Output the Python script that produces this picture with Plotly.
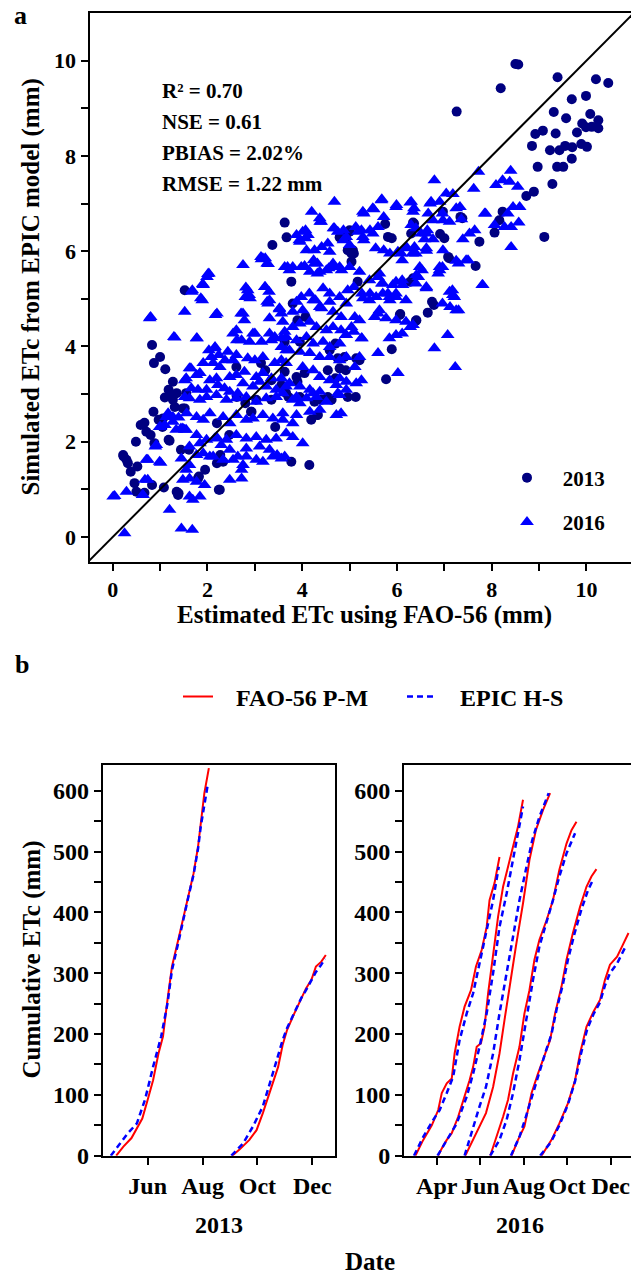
import plotly.graph_objects as go

W, H = 631, 1277
SERIF = "Liberation Serif"
NAVY = "#000080"
BLUE = "#0000FF"
RED = "#FF0000"

# ---------------- panel a: daily ETc (mm), FAO-56 estimate vs EPIC simulation ----------------
etc_2013 = [
    (8.50, 9.93), (8.56, 9.92), (9.39, 9.65), (10.20, 9.61), (10.46, 9.53), (8.19, 9.42), (7.26, 8.93),
    (9.69, 9.19), (9.99, 9.26), (9.31, 8.92), (9.57, 8.79), (10.08, 8.88), (10.25, 8.75), (9.91, 8.68),
    (9.99, 8.60), (10.11, 8.61), (10.25, 8.58), (9.80, 8.49), (8.92, 8.46), (9.08, 8.53), (9.35, 8.47),
    (8.85, 8.21), (9.23, 8.12), (9.43, 8.12), (9.55, 8.21), (9.70, 8.18), (9.89, 8.25), (10.01, 8.19),
    (9.69, 7.94), (8.97, 7.77), (9.38, 7.77), (9.51, 7.77), (9.28, 7.41), (8.89, 7.25), (8.73, 7.16),
    (9.11, 6.30),
    (6.34, 6.60), (6.91, 6.36), (7.00, 6.27), (7.10, 5.85), (7.74, 6.20), (7.66, 5.69), (8.23, 6.83),
    (8.16, 6.65), (8.06, 6.39), (6.97, 6.83), (7.34, 6.72), (7.38, 6.69),
    (3.63, 6.60), (3.37, 6.13), (3.67, 6.29), (3.77, 5.36), (3.80, 4.90), (1.52, 5.18), (5.00, 6.44),
    (4.92, 6.30), (5.04, 5.95), (5.09, 5.95), (5.04, 5.78), (5.17, 5.36), (5.75, 6.57), (5.81, 6.30),
    (5.89, 6.27), (6.36, 6.58), (6.30, 6.37), (6.28, 5.36), (6.34, 5.43), (7.08, 5.88), (6.74, 4.94),
    (6.78, 4.87), (6.65, 4.71), (6.07, 4.68), (6.41, 4.55), (4.79, 6.29), (5.00, 6.41), (4.96, 6.02),
    (5.07, 6.02),
    (0.83, 4.03), (0.87, 3.65), (1.00, 3.78), (1.11, 3.52), (1.27, 3.26), (1.18, 3.09), (1.35, 3.02),
    (1.10, 2.93), (1.27, 2.88), (1.31, 2.73), (1.52, 2.70), (0.86, 2.63), (0.97, 2.46), (1.05, 2.31),
    (0.59, 2.35), (0.67, 2.40), (0.71, 2.21), (0.80, 2.14), (0.49, 2.00), (0.88, 1.97), (1.18, 2.04),
    (1.44, 1.83), (1.61, 1.83), (0.23, 1.69), (0.32, 1.55), (0.38, 1.37), (0.52, 1.48), (0.46, 1.13),
    (0.50, 0.95), (0.67, 0.93), (0.83, 1.09), (1.08, 1.04), (1.35, 0.95), (1.39, 0.92), (1.82, 1.27),
    (1.95, 1.41), (2.24, 0.99), (2.20, 1.55), (2.27, 1.72), (2.46, 2.14), (2.20, 2.39), (2.80, 2.81),
    (2.62, 2.94), (2.92, 2.63), (3.35, 2.88), (3.43, 2.31), (3.13, 3.65), (3.22, 3.50), (3.56, 3.19),
    (3.77, 1.58), (4.15, 1.51), (4.07, 4.62), (3.90, 4.55), (3.71, 2.94), (3.90, 3.26), (4.32, 2.56),
    (4.41, 2.88), (4.54, 2.94), (4.62, 2.88), (4.96, 2.94), (5.13, 2.94), (4.70, 4.06), (4.58, 3.92),
    (4.54, 3.50), (4.70, 3.33), (4.92, 3.50), (5.77, 3.31), (5.89, 3.94), (6.06, 4.66), (6.40, 4.54),
    (1.55, 3.02), (2.61, 3.57), (3.35, 3.29), (2.33, 1.58), (3.03, 2.88), (2.93, 2.63), (5.21, 3.71),
    (5.14, 3.75), (4.75, 3.75), (4.89, 3.78), (4.79, 3.54), (3.63, 4.10), (3.95, 4.10), (3.63, 3.47),
    (3.88, 3.36), (4.05, 3.44), (3.66, 3.02), (3.95, 2.94), (4.26, 2.84), (4.19, 2.46), (4.33, 2.56),
    (1.20, 2.98), (1.48, 2.70), (1.06, 2.49), (1.20, 2.02), (0.22, 1.72), (0.29, 1.62), (1.80, 1.23),
    (2.26, 0.99), (1.38, 0.88),
]

etc_2016 = [
    (7.72, 7.67), (6.79, 7.49), (8.40, 7.69), (8.23, 7.49), (8.09, 7.39), (8.38, 7.46), (8.55, 7.35),
    (7.62, 7.31), (7.04, 7.21), (7.18, 7.20), (6.72, 7.04), (6.90, 7.04), (6.30, 7.04), (6.34, 6.83),
    (7.25, 6.90), (7.33, 6.93), (7.87, 6.79), (8.45, 6.93), (8.59, 6.93), (8.34, 6.79), (6.76, 6.65),
    (6.97, 6.65), (7.11, 6.62), (7.36, 6.67), (8.06, 6.55), (8.27, 6.51), (8.41, 6.51), (8.57, 6.60),
    (6.62, 6.37), (6.76, 6.25), (6.58, 6.25), (6.20, 6.09), (6.37, 6.09), (6.09, 5.95), (7.39, 6.25),
    (7.53, 6.37), (7.64, 6.44), (8.41, 6.09), (6.97, 6.02), (6.62, 6.01), (7.25, 5.80), (7.50, 5.81),
    (6.90, 5.67), (6.48, 5.67),
    (4.68, 7.04), (5.68, 7.09), (5.98, 6.93), (6.28, 7.02), (6.36, 6.90), (5.51, 6.88), (5.30, 6.79),
    (6.70, 7.00), (6.66, 6.79), (4.20, 6.83), (4.38, 6.62), (6.96, 6.79), (7.85, 6.79), (6.64, 6.44),
    (6.40, 6.48), (6.51, 6.37), (6.62, 6.06), (5.72, 6.72), (5.60, 6.51), (5.43, 6.44), (5.13, 6.51),
    (5.25, 6.44), (4.66, 6.48), (4.87, 6.44), (4.07, 6.44), (3.88, 6.34), (4.07, 6.27), (3.94, 6.23),
    (4.41, 6.09), (4.58, 5.99), (4.24, 5.81), (4.32, 5.74), (4.87, 6.23), (5.00, 6.13), (5.30, 6.23),
    (5.55, 6.06), (5.72, 6.02), (5.85, 5.95), (6.02, 5.99), (6.11, 5.81), (6.19, 6.06), (6.32, 5.95),
    (6.40, 5.95), (5.00, 5.67), (4.83, 5.60), (4.66, 5.67), (4.56, 5.64), (4.32, 5.53), (4.16, 5.57),
    (3.98, 5.67), (3.69, 5.67), (3.73, 5.60), (3.22, 5.85), (3.26, 5.74), (3.13, 5.88), (2.75, 5.71),
    (2.81, 5.24), (2.88, 5.08), (2.80, 5.04), (3.22, 5.25), (3.30, 5.15), (3.26, 4.94), (2.03, 5.53),
    (1.99, 5.46), (1.90, 5.31), (1.68, 5.18), (1.86, 5.01), (1.52, 4.73), (2.20, 4.69), (0.80, 4.62),
    (2.71, 4.69), (3.52, 4.78), (3.56, 4.69), (3.98, 5.04), (4.15, 5.11), (4.28, 4.97), (4.41, 4.80),
    (4.58, 4.94), (5.09, 5.25), (5.26, 5.11), (5.43, 5.11), (5.60, 5.46), (5.68, 5.32), (5.98, 5.36),
    (6.11, 5.39), (5.81, 5.11), (5.98, 5.11), (6.19, 4.97), (5.85, 4.97), (6.45, 5.46), (6.40, 5.32),
    (6.62, 5.25), (6.87, 5.53), (6.96, 5.67), (7.17, 5.18), (7.21, 5.04), (7.25, 4.76), (7.80, 5.29),
    (7.46, 5.81), (7.30, 5.74), (6.53, 5.60),
    (4.37, 6.69), (4.40, 6.62), (4.01, 6.41), (4.12, 6.34), (3.95, 6.20), (4.68, 6.48), (4.75, 6.41),
    (4.93, 6.30), (5.18, 6.41), (5.28, 6.30), (5.49, 6.37), (5.67, 7.07), (5.99, 6.97), (6.30, 6.55),
    (5.28, 6.83), (5.49, 6.90), (4.54, 6.16), (4.26, 6.02), (4.09, 6.02), (3.17, 5.85),
    (3.14, 5.83), (3.28, 5.73), (3.63, 5.67), (2.01, 5.52), (1.91, 5.29), (1.67, 5.15), (1.89, 4.97),
    (0.78, 4.59), (2.17, 4.66), (1.31, 4.19), (1.77, 4.17), (2.85, 5.18), (2.90, 5.01), (3.21, 5.25),
    (3.31, 4.97), (3.28, 4.90), (3.52, 4.80), (2.75, 4.69), (2.78, 4.55), (3.31, 4.59), (3.59, 4.52),
    (3.63, 4.31), (3.56, 4.17), (2.61, 4.34), (3.00, 4.27), (3.31, 4.27), (3.42, 4.20), (2.72, 4.13),
    (2.89, 4.10), (3.14, 4.10), (3.35, 4.13), (3.56, 3.99), (3.66, 3.92), (2.15, 3.96), (2.08, 3.78),
    (2.43, 3.89), (2.61, 3.82), (2.54, 3.71), (1.62, 3.54), (1.91, 3.65), (2.12, 3.65), (2.26, 3.57),
    (2.85, 3.75), (3.00, 3.71), (3.17, 3.78), (3.42, 3.65), (3.56, 3.71), (1.55, 3.33), (1.77, 3.40),
    (1.84, 3.44), (2.05, 3.29), (2.19, 3.33), (2.47, 3.36), (2.61, 3.40), (2.78, 3.47), (3.03, 3.36),
    (3.17, 3.44), (3.35, 3.33), (3.56, 3.33), (1.66, 3.12), (1.80, 3.09), (1.98, 3.09), (2.22, 3.19),
    (2.36, 3.12), (2.75, 3.23), (2.96, 3.16), (3.10, 3.26), (3.24, 3.16), (2.47, 3.05), (2.64, 3.02),
    (3.45, 3.09), (3.66, 3.16), (1.52, 2.94), (1.62, 2.91),
    (3.80, 5.67), (4.05, 5.69), (4.26, 5.74), (4.37, 5.57), (4.51, 5.60), (4.65, 5.74), (4.79, 5.67),
    (5.21, 5.57), (5.42, 5.39), (5.63, 5.53), (5.70, 5.32), (5.91, 5.29), (6.12, 5.29), (6.41, 5.50),
    (6.62, 5.22), (6.90, 5.60), (7.11, 5.15), (7.18, 5.08), (7.07, 4.24), (6.79, 3.96), (7.23, 3.57),
    (7.81, 5.29), (6.02, 3.44), (5.60, 3.86), (5.25, 4.17), (5.84, 4.17), (5.98, 4.24), (6.19, 4.52),
    (6.34, 4.45), (5.63, 4.76), (5.53, 4.62), (5.28, 5.01), (5.42, 4.97), (5.56, 5.04), (5.70, 5.11),
    (5.84, 5.04), (5.98, 5.04), (4.93, 4.90), (5.11, 4.62), (5.21, 4.55), (5.04, 4.41), (4.44, 5.22),
    (4.58, 5.11), (4.79, 5.04), (4.96, 5.18), (4.23, 4.97), (4.37, 4.83), (4.65, 4.73), (4.82, 4.62),
    (3.88, 4.94), (4.01, 4.76), (3.80, 4.73), (3.80, 4.41), (3.95, 4.48), (4.16, 4.52), (4.30, 4.41),
    (4.51, 4.34), (4.65, 4.41), (4.82, 4.34), (4.93, 4.24), (3.66, 4.20), (3.88, 4.13), (4.09, 4.20),
    (4.23, 4.06), (4.44, 4.10), (4.58, 3.99), (4.79, 4.06), (3.73, 3.92), (3.95, 3.89), (4.16, 3.86),
    (4.37, 3.78), (4.58, 3.78), (4.79, 3.71), (4.93, 3.78), (5.21, 3.78), (5.11, 3.57), (5.25, 3.29),
    (3.66, 3.65), (4.01, 3.57), (4.23, 3.50), (4.37, 3.36), (4.58, 3.29), (4.79, 3.33), (4.93, 3.26),
    (3.73, 3.23), (3.95, 3.16), (4.16, 3.09), (4.37, 3.05), (4.72, 3.19), (4.93, 3.09), (5.14, 3.23),
    (3.59, 3.02), (3.88, 2.94), (4.09, 2.91), (4.30, 2.94), (4.79, 2.98),
    (0.01, 0.85), (0.25, 0.08), (0.29, 0.95), (0.64, 0.88), (0.71, 1.62), (0.99, 1.58), (0.68, 1.20),
    (0.92, 1.93), (1.20, 0.57), (1.45, 0.18), (1.68, 0.15), (1.69, 0.78), (1.84, 0.85), (1.94, 1.09),
    (1.62, 0.85), (1.48, 1.20), (1.62, 1.23), (1.77, 1.16), (2.47, 1.20), (2.72, 1.23), (1.45, 1.65),
    (1.62, 1.51), (1.55, 1.41), (1.77, 1.72), (1.91, 1.76), (2.05, 1.69), (1.62, 1.90), (1.84, 1.97),
    (1.55, 2.25), (1.77, 2.14), (1.98, 2.04), (2.15, 2.07), (2.29, 1.93), (2.12, 1.69), (2.33, 1.62),
    (2.54, 1.62), (2.64, 1.69), (2.82, 1.69), (3.03, 1.62), (3.17, 1.58), (3.38, 1.69), (3.56, 1.65),
    (2.72, 1.41), (2.75, 1.51), (1.77, 2.52), (1.91, 2.46), (2.05, 2.60), (1.13, 2.52), (1.27, 2.42),
    (0.99, 2.31), (1.34, 2.25), (1.48, 2.28), (1.17, 2.60), (2.33, 2.52), (2.47, 2.39), (2.61, 2.56),
    (2.82, 2.46), (2.96, 2.49), (3.17, 2.56), (3.38, 2.49), (3.59, 2.60), (2.19, 2.10), (2.40, 2.04),
    (2.61, 2.14), (2.82, 2.07), (3.03, 2.10), (3.24, 2.04), (3.45, 2.07), (3.66, 2.18), (1.84, 2.88),
    (1.98, 2.94), (2.19, 2.98), (2.40, 2.88), (2.61, 2.91), (2.82, 2.94), (3.03, 2.84), (3.24, 2.91),
    (3.45, 2.94), (2.47, 1.83), (2.82, 1.86), (3.10, 1.90), (3.31, 1.83),
    (3.63, 1.69), (4.01, 1.97), (3.80, 2.10), (3.59, 2.46), (3.80, 2.39), (3.88, 2.56), (4.16, 2.63),
    (4.37, 2.67), (4.72, 2.56), (4.82, 2.60), (4.51, 2.84), (4.23, 3.02), (4.75, 3.02), (3.80, 2.88),
    (3.95, 2.81), (5.26, 4.17), (5.09, 4.31), (4.92, 4.24), (3.47, 1.72), (6.11, 4.27), (6.28, 4.41),
    (5.98, 4.55), (5.77, 4.59), (5.60, 4.69), (7.12, 4.83), (7.30, 4.76), (6.96, 4.90), (0.74, 1.20),
    (1.01, 1.56), (0.74, 1.62), (0.90, 1.90), (1.01, 2.31), (1.10, 2.35), (1.27, 2.52), (1.39, 2.51),
    (1.44, 2.28), (1.52, 2.25), (1.56, 2.60), (1.52, 3.29), (1.65, 3.54), (1.29, 4.20), (1.78, 4.17),
    (2.03, 3.92), (2.16, 3.99), (2.24, 3.82), (2.37, 3.71), (2.54, 4.27), (2.62, 4.13), (2.96, 4.27),
    (0.04, 0.86), (0.63, 0.88),
]

fit_stats = ["R² = 0.70", "NSE = 0.61", "PBIAS = 2.02%", "RMSE = 1.22 mm"]
etc_ticks = list(range(0, 11))

# ---------------- panel b: cumulative ETc (mm) per growing season ----------------
fao_2013_dates = [
    ["2013-04-27", "2013-05-05", "2013-05-14", "2013-05-19", "2013-05-26", "2013-06-01", "2013-06-07",
     "2013-06-13", "2013-06-18", "2013-06-23", "2013-06-28", "2013-07-05", "2013-07-10", "2013-07-16",
     "2013-07-22", "2013-07-27", "2013-07-31", "2013-08-03", "2013-08-08"],
    ["2013-09-03", "2013-09-11", "2013-09-22", "2013-09-30", "2013-10-07", "2013-10-13", "2013-10-18",
     "2013-10-24", "2013-10-29", "2013-11-03", "2013-11-11", "2013-11-19", "2013-11-24", "2013-11-30",
     "2013-12-05", "2013-12-11", "2013-12-16"],
]
fao_2013_mm = [
    [0, 15, 29, 42, 61, 92, 124, 168, 196, 256, 311, 355, 388, 426, 464, 508, 563, 596, 637],
    [0, 10, 26, 42, 70, 97, 119, 146, 182, 207, 234, 261, 275, 289, 311, 319, 330],
]
epic_2013_dates = [
    ["2013-04-21", "2013-05-01", "2013-05-10", "2013-05-20", "2013-05-29", "2013-06-07", "2013-06-16",
     "2013-06-23", "2013-06-28", "2013-07-05", "2013-07-10", "2013-07-16", "2013-07-22", "2013-07-27",
     "2013-07-30", "2013-08-07"],
    ["2013-09-02", "2013-09-15", "2013-09-26", "2013-10-07", "2013-10-18", "2013-10-29", "2013-11-03",
     "2013-11-11", "2013-11-19", "2013-11-24", "2013-11-30", "2013-12-05", "2013-12-11", "2013-12-15"],
]
epic_2013_mm = [
    [0, 20, 37, 53, 92, 146, 196, 250, 305, 350, 385, 424, 462, 505, 541, 612],
    [0, 20, 48, 81, 135, 190, 210, 236, 260, 272, 288, 302, 314, 324],
]

fao_2016_dates = [
    ["2016-03-02", "2016-03-13", "2016-03-25", "2016-04-03", "2016-04-08", "2016-04-15", "2016-04-22",
     "2016-04-26", "2016-05-03", "2016-05-10", "2016-05-19", "2016-05-26", "2016-06-03", "2016-06-10",
     "2016-06-14", "2016-06-21", "2016-06-28"],
    ["2016-04-03", "2016-04-08", "2016-04-15", "2016-04-22", "2016-05-01", "2016-05-10", "2016-05-17",
     "2016-05-22", "2016-05-27", "2016-06-02", "2016-06-07", "2016-06-12", "2016-06-19", "2016-06-26",
     "2016-07-03", "2016-07-10", "2016-07-17", "2016-07-24", "2016-07-31"],
    ["2016-05-11", "2016-05-22", "2016-05-31", "2016-06-09", "2016-06-19", "2016-06-28", "2016-07-05",
     "2016-07-12", "2016-07-21", "2016-07-31", "2016-08-09", "2016-08-18", "2016-08-28", "2016-09-07"],
    ["2016-06-15", "2016-06-24", "2016-07-03", "2016-07-10", "2016-07-17", "2016-07-26", "2016-08-02",
     "2016-08-09", "2016-08-16", "2016-08-23", "2016-09-02", "2016-09-11", "2016-09-20", "2016-09-30",
     "2016-10-07", "2016-10-14"],
    ["2016-07-15", "2016-07-24", "2016-08-02", "2016-08-12", "2016-08-21", "2016-08-31", "2016-09-07",
     "2016-09-14", "2016-09-23", "2016-09-30", "2016-10-09", "2016-10-19", "2016-10-28", "2016-11-04",
     "2016-11-11"],
    ["2016-08-26", "2016-09-09", "2016-09-20", "2016-10-02", "2016-10-12", "2016-10-19", "2016-10-28",
     "2016-11-07", "2016-11-16", "2016-11-23", "2016-11-30", "2016-12-10", "2016-12-17", "2016-12-26"],
]
fao_2016_mm = [
    [0, 26, 50, 75, 103, 119, 127, 168, 212, 245, 272, 311, 338, 376, 420, 448, 491],
    [0, 12, 26, 37, 64, 97, 124, 146, 179, 185, 212, 267, 333, 393, 442, 475, 508, 541, 585],
    [0, 26, 48, 70, 113, 168, 223, 278, 344, 415, 486, 535, 568, 596],
    [0, 31, 64, 92, 135, 179, 234, 272, 322, 355, 387, 420, 470, 513, 535, 549],
    [0, 26, 48, 103, 135, 168, 190, 234, 278, 322, 366, 409, 442, 459, 471],
    [0, 26, 53, 86, 124, 168, 212, 237, 256, 289, 314, 327, 344, 366],
]
epic_2016_dates = [
    ["2016-02-29", "2016-03-13", "2016-03-27", "2016-04-05", "2016-04-15", "2016-04-24", "2016-05-03",
     "2016-05-13", "2016-05-22", "2016-06-01", "2016-06-10", "2016-06-19", "2016-06-27"],
    ["2016-04-02", "2016-04-15", "2016-04-29", "2016-05-13", "2016-05-22", "2016-05-31", "2016-06-10",
     "2016-06-19", "2016-06-28", "2016-07-08", "2016-07-17", "2016-07-26", "2016-07-31"],
    ["2016-05-10", "2016-05-22", "2016-05-31", "2016-06-09", "2016-06-19", "2016-06-28", "2016-07-08",
     "2016-07-17", "2016-07-26", "2016-08-04", "2016-08-13", "2016-08-23", "2016-09-05"],
    ["2016-06-15", "2016-06-28", "2016-07-08", "2016-07-17", "2016-07-26", "2016-08-04", "2016-08-14",
     "2016-08-23", "2016-09-02", "2016-09-11", "2016-09-20", "2016-09-30", "2016-10-12"],
    ["2016-07-14", "2016-07-26", "2016-08-04", "2016-08-14", "2016-08-23", "2016-09-01", "2016-09-09",
     "2016-09-16", "2016-09-25", "2016-10-02", "2016-10-11", "2016-10-21", "2016-10-30", "2016-11-06"],
    ["2016-08-24", "2016-09-08", "2016-09-20", "2016-10-02", "2016-10-12", "2016-10-20", "2016-10-29",
     "2016-11-07", "2016-11-16", "2016-11-23", "2016-11-30", "2016-12-10", "2016-12-22"],
]
epic_2016_mm = [
    [0, 31, 59, 75, 103, 130, 190, 234, 267, 322, 371, 420, 475],
    [0, 26, 53, 97, 135, 179, 234, 300, 376, 431, 486, 541, 574],
    [0, 48, 81, 113, 168, 234, 300, 366, 420, 470, 519, 557, 596],
    [0, 26, 59, 103, 157, 223, 289, 344, 382, 420, 459, 497, 530],
    [0, 31, 64, 103, 141, 172, 200, 240, 282, 322, 364, 405, 436, 453],
    [0, 22, 50, 84, 122, 166, 208, 233, 252, 280, 300, 316, 344],
]

cum_ticks = list(range(0, 601, 50))
month_ticks_2013 = ["2013-06-01", "2013-08-01", "2013-10-01", "2013-12-01"]
month_ticks_2016 = ["2016-04-01", "2016-06-01", "2016-08-01", "2016-10-01", "2016-12-01"]


def fx(x):
    """pixel column -> paper x"""
    return x / W


def fy(y):
    """pixel row -> paper y"""
    return 1 - y / H


def joined(date_lists, val_lists):
    xs, ys = [], []
    for d, v in zip(date_lists, val_lists):
        xs += d + [None]
        ys += v + [None]
    return xs, ys


NB = "\u00a0"
fig = go.Figure()

# scatter, 2013 then 2016
fig.add_trace(go.Scatter(
    x=[p[0] for p in etc_2013], y=[p[1] for p in etc_2013], mode="markers",
    name=NB * 3 + "2013", legend="legend", legendgroup="y13",
    marker=dict(symbol="circle", size=10, color=NAVY, line=dict(width=0)),
    xaxis="x", yaxis="y"))
fig.add_trace(go.Scatter(
    x=[p[0] for p in etc_2016], y=[p[1] for p in etc_2016], mode="markers",
    name=NB * 3 + "2016", legend="legend", legendgroup="y16",
    marker=dict(symbol="triangle-up", size=12, color=BLUE, line=dict(width=0)),
    xaxis="x", yaxis="y"))
fig.add_trace(go.Scatter(
    x=[-1, 12], y=[-1, 12], mode="lines", showlegend=False,
    line=dict(color="black", width=2), xaxis="x", yaxis="y"))

# cumulative curves
for (dl, vl, dl2, vl2, xa, ya, first) in [
    (fao_2013_dates, fao_2013_mm, epic_2013_dates, epic_2013_mm, "x2", "y2", True),
    (fao_2016_dates, fao_2016_mm, epic_2016_dates, epic_2016_mm, "x3", "y3", False),
]:
    xs, ys = joined(dl, vl)
    fig.add_trace(go.Scatter(
        x=xs, y=ys, mode="lines", name=NB * 3 + "FAO-56 P-M", legend="legend2",
        showlegend=first, line=dict(color=RED, width=2), xaxis=xa, yaxis=ya))
    xs, ys = joined(dl2, vl2)
    fig.add_trace(go.Scatter(
        x=xs, y=ys, mode="lines", name=NB * 3 + "EPIC H-S", legend="legend2",
        showlegend=first, line=dict(color=BLUE, width=2.5, dash="6px,4px"), xaxis=xa, yaxis=ya))

ax = dict(showline=True, linewidth=2, linecolor="black", ticks="outside", ticklen=7,
          tickwidth=2, tickcolor="black", showgrid=False, zeroline=False, automargin=False)

tick_a = dict(family=SERIF, size=22, color="black", weight="bold")
tick_b = dict(family=SERIF, size=24, color="black", weight="bold")
cum_text = [str(v) if v % 100 == 0 else "" for v in cum_ticks]

fig.update_layout(
    width=W, height=H, margin=dict(l=0, r=0, t=0, b=0, pad=0, autoexpand=False),
    paper_bgcolor="white", plot_bgcolor="white",
    font=dict(family=SERIF, size=22, color="black", weight="bold"),
    xaxis=dict(**ax, domain=[fx(89.5), 1.0], range=[-0.49, 10.94], mirror=True,
               tickvals=etc_ticks, ticktext=[str(v) if v % 2 == 0 else "" for v in etc_ticks],
               tickfont=tick_a, anchor="y"),
    yaxis=dict(**ax, domain=[fy(562), fy(13)], range=[-0.525, 11.0], mirror=False,
               tickvals=etc_ticks, ticktext=[str(v) if v % 2 == 0 else "" for v in etc_ticks],
               tickfont=tick_a, anchor="x"),
    xaxis2=dict(**ax, domain=[fx(102.7), fx(335)], type="date",
                range=["2013-04-12", "2013-12-26 05:00"], mirror=True, tickangle=0,
                tickvals=month_ticks_2013, tickformat="%b", tickfont=tick_b, anchor="y2"),
    yaxis2=dict(**ax, domain=[fy(1155.7), fy(764.7)], range=[0, 642.7], mirror=True,
                tickvals=cum_ticks, ticktext=cum_text, tickfont=tick_b, anchor="x2"),
    xaxis3=dict(**ax, domain=[fx(404), 1.0], type="date",
                range=["2016-02-15", "2016-12-29 12:00"], mirror=True, tickangle=0,
                tickvals=month_ticks_2016, tickformat="%b", tickfont=tick_b, anchor="y3"),
    yaxis3=dict(**ax, domain=[fy(1155.7), fy(764.7)], range=[0, 642.7], mirror=False,
                tickvals=cum_ticks, ticktext=cum_text, tickfont=tick_b, anchor="x3"),
    legend=dict(x=fx(507), y=fy(500), xanchor="left", yanchor="middle",
                bgcolor="rgba(0,0,0,0)", tracegroupgap=14,
                font=dict(family=SERIF, size=21, color="black", weight="bold")),
    legend2=dict(orientation="h", x=fx(178), y=fy(697), xanchor="left", yanchor="middle",
                 bgcolor="rgba(0,0,0,0)", entrywidth=179,
                 font=dict(family=SERIF, size=24, color="black", weight="bold")),
)


def label(text, x, y, size, angle=0, xanchor="center", yanchor="middle"):
    fig.add_annotation(text=text, x=fx(x), y=fy(y), xref="paper", yref="paper",
                       showarrow=False, xanchor=xanchor, yanchor=yanchor, textangle=angle,
                       borderpad=0, font=dict(family=SERIF, size=size, color="black", weight="bold"))


label("a", 20, 16, 26)
label("b", 22, 664, 26)
for i, s in enumerate(fit_stats):
    label(s, 161, 91 + 31 * i, 21, xanchor="left")
label("Estimated ETc using FAO-56 (mm)", 364, 615, 25)
label("Simulated ETc from EPIC model (mm)", 31, 287.5, 25, angle=-90)
label("Cumulative ETc (mm)", 31.5, 960, 25, angle=-90)
label("2013", 219, 1225, 24)
label("2016", 520, 1225, 24)
label("Date", 370, 1276, 25, yanchor="bottom")

# page body without default margin so the figure sits at the window's corner
fig.write_html("out.html", post_script="document.body.style.margin='0';")
